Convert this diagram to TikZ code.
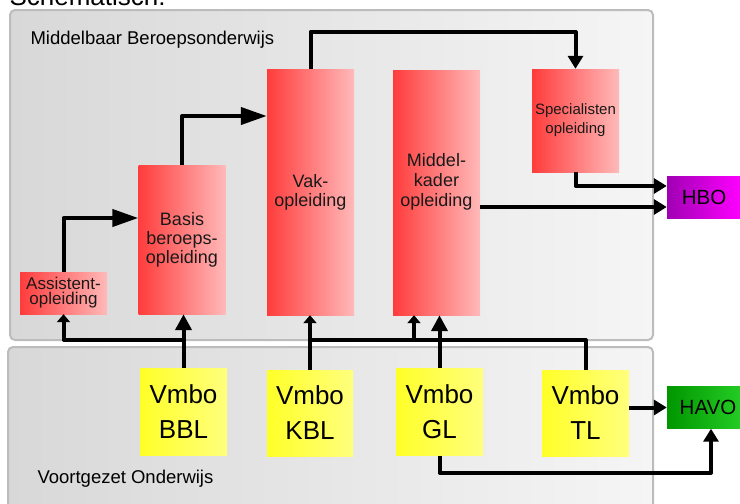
\documentclass[tikz,border=0pt]{standalone}
\usepackage{fontspec}
\setmainfont{Liberation Sans}
\usetikzlibrary{arrows.meta}
\definecolor{redl}{RGB}{255,60,60}
\definecolor{redr}{RGB}{255,185,185}
\definecolor{yell}{RGB}{255,255,40}
\definecolor{yelr}{RGB}{255,255,125}
\definecolor{hbol}{RGB}{160,0,180}
\definecolor{hbor}{RGB}{255,0,255}
\definecolor{havol}{RGB}{0,150,0}
\definecolor{havor}{RGB}{40,210,40}
\definecolor{panell}{RGB}{216,216,216}
\definecolor{panelr}{RGB}{245,245,245}
\definecolor{paneledge}{RGB}{188,188,188}
\tikzset{
  panel/.style={draw=paneledge, line width=2pt, rounded corners=5pt, left color=panell, right color=panelr},
  redbox/.style={left color=redl, right color=redr, minimum width=87pt, inner sep=0pt, align=center, text=black!90, font=\fontsize{18}{19}\selectfont},
  vmbo/.style={left color=yell, right color=yelr, minimum width=87pt, minimum height=87pt, inner sep=0pt, align=center, font=\fontsize{26}{35}\selectfont},
  outbox/.style={minimum height=42pt, inner sep=0pt, font=\fontsize{20.5}{24}\selectfont},
  link/.style={line width=4pt, line join=round},
  arr/.style={link, -{Triangle[length=13pt,width=15pt]}},
  arrbig/.style={link, -{Triangle[length=16pt,width=16pt]}},
  arrlong/.style={link, -{Triangle[length=26pt,width=17pt]}},
  arrshort/.style={link, -{Triangle[length=8pt,width=13pt]}}
}
\begin{document}
\begin{tikzpicture}[x=1pt, y=-1pt]
\useasboundingbox (0,0) rectangle (740,504);
\node (title) at(6,5)[anchor=base west, font=\fontsize{26}{30}\selectfont]{Schematisch:};
\draw[panel](10,10) rectangle (653,340);
\draw[panel](8,347) rectangle (653,520);
\node (mbo) at(27,44)[anchor=base west, font=\fontsize{18.5}{20}\selectfont]{Middelbaar Beroepsonderwijs};
\node (vo) at(34,483)[anchor=base west, font=\fontsize{18.5}{20}\selectfont]{Voortgezet Onderwijs};

\node (assist) at(63.5,293)[redbox, minimum height=42pt, font=\fontsize{17}{15}\selectfont]{Assistent-\\opleiding};
\node (basis) at(182,239.5)[redbox, minimum height=149pt]{Basis\\beroeps-\\opleiding};
\node (vak) at(310.5,192)[redbox, minimum height=246pt]{Vak-\\opleiding};
\node (kader) at(436.5,192.5)[redbox, minimum height=245pt]{};
\node (kadertext) at(436.5,182)[align=center, text=black!90, font=\fontsize{18}{20}\selectfont]{Middel-\\kader\\opleiding};
\node (spec) at(575.5,120.5)[redbox, minimum height=103pt, font=\fontsize{15}{19}\selectfont]{Specialisten\\opleiding};
\node (hbo) at(704,197)[outbox, minimum width=74pt, left color=hbol, right color=hbor]{HBO};
\node (havo) at(708,407.5)[outbox, minimum width=82pt, left color=havol, right color=havor]{HAVO};

\node (bbl) at(183.5,411.5)[vmbo]{Vmbo\\BBL};
\node (kbl) at(310,413)[vmbo, minimum width=86pt, minimum height=86pt]{Vmbo\\KBL};
\node (gl) at(439.5,412)[vmbo]{Vmbo\\GL};
\node (tl) at(585.5,413)[vmbo, minimum height=86pt]{Vmbo\\TL};

\draw[arrlong](assist.north) |- ([yshift=21.5pt]basis.west);
\draw[arrlong](basis.north) |- ([yshift=76pt]vak.west);
\draw[arr](vak.north) -- ++(0,-37) -| (spec.north);
\draw[arr](spec.south) |- ([yshift=11pt]hbo.west);
\coordinate (kout) at ([yshift=-14.5pt]kader.east);
\draw[arr](kout) -- (kout -| hbo.west);

\coordinate (jbbl) at ([yshift=28pt]bbl.north);
\draw[arrbig](bbl.north) -- (bbl.north |- basis.south);
\draw[arrshort](jbbl) -| (assist.south);
\coordinate (jtl) at ([yshift=30pt]tl.north);
\draw[link](tl.north) -- (jtl) -- (jtl -| kbl.north);
\draw[arrshort](kbl.north) -- (kbl.north |- vak.south);
\draw[arrshort]([xshift=-22.5pt]kader.south |- jtl) -- ([xshift=-22.5pt]kader.south);
\draw[arrbig](gl.north) -- (gl.north |- kader.south);
\draw[arr](tl.east |- havo.west) -- (havo.west);
\draw[arr](gl.south) -- ++(0,17) -| ([xshift=3pt]havo.south);
\end{tikzpicture}
\end{document}
